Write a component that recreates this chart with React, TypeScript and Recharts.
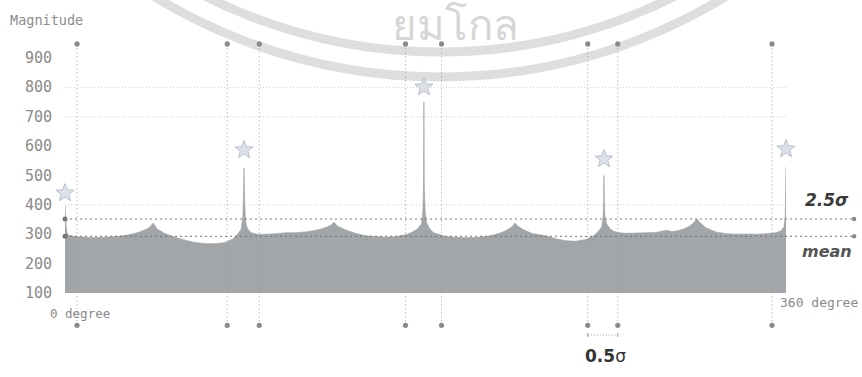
import React from 'react';
import { ComposedChart, Area, XAxis, YAxis, ReferenceLine, ReferenceDot } from 'recharts';

// Spectrum profile: [angle in degrees, magnitude]
const spectrum: [number, number][] = [
  [0, 400], [0.5, 330], [1, 305], [2, 296], [5, 292], [10, 290], [15, 288], [20, 290],
  [25, 292], [30, 296], [33, 300], [36, 305], [40, 315], [42, 322], [43, 330], [44, 338],
  [45, 328], [46, 318], [50, 302], [55, 290], [60, 280], [65, 272], [70, 268], [75, 268],
  [80, 272], [84, 285], [86, 298], [88, 318], [88.8, 360], [89.1, 420], [89.4, 525],
  [89.7, 420], [90, 360], [90.5, 330], [91.5, 315], [93, 305], [96, 300], [100, 300],
  [105, 302], [110, 305], [115, 305], [120, 308], [124, 312], [128, 318], [131, 325],
  [133, 332], [134.3, 341], [136, 328], [140, 315], [145, 303], [150, 295], [155, 292],
  [160, 290], [165, 292], [170, 298], [173, 306], [176, 318], [178, 335], [178.7, 380],
  [179, 460], [179.2, 750], [179.4, 460], [179.8, 380], [180.5, 340], [182, 320],
  [184, 305], [188, 297], [190, 292], [195, 290], [200, 288], [205, 289], [210, 292],
  [213, 296], [217, 303], [220, 312], [223, 325], [224.7, 338], [226, 328], [229, 315],
  [233, 303], [237, 298], [240, 295], [245, 285], [250, 278], [255, 276], [260, 282],
  [264, 295], [266, 308], [268, 325], [268.7, 360], [268.9, 400], [269.1, 500],
  [269.3, 400], [269.6, 360], [270.5, 335], [272, 320], [274, 310], [277, 305],
  [280, 303], [285, 304], [290, 305], [295, 306], [298, 310], [300.5, 314], [303, 309],
  [306, 312], [309, 318], [312, 328], [314, 340], [315.5, 352], [317, 340], [320, 322],
  [325, 308], [330, 302], [335, 300], [340, 301], [345, 300], [350, 302], [355, 305],
  [357.5, 312], [359, 325], [359.6, 360], [360, 530],
];

const yTicks = [100, 200, 300, 400, 500, 600, 700, 800, 900];
const gridValues = [400, 700, 800];
const markerAngles = [6, 81, 97, 170, 188, 261, 276, 353];
const peakAngles = [0, 89.4, 179.2, 269.1, 360];
const peakStarMagnitudes = [440, 587, 801, 556, 590];
const meanMagnitude = 293;
const sigmaMagnitude = 352;
const sigmaBracketAngles = [261, 276];

// annotation extents (in data units)
const markerTop = 948;
const markerBottom = -10;
const thresholdLineEnd = 394;
const bracketLevel = -43;

const data = spectrum.map(([angle, magnitude]) => ({ angle, magnitude }));

const starPoints = (cx: number, cy: number, R: number, r: number) => {
  const pts: string[] = [];
  for (let i = 0; i < 10; i++) {
    const ang = -Math.PI / 2 + (i * Math.PI) / 5;
    const rad = i % 2 === 0 ? R : r;
    pts.push(`${cx + rad * Math.cos(ang)},${cy + rad * Math.sin(ang)}`);
  }
  return pts.join(' ');
};

const StarShape = (props: any) => (
  <polygon
    points={starPoints(props.cx, props.cy, 9.5, 4)}
    fill="#dde1ea"
    stroke="#b9c0cf"
    strokeWidth={1}
  />
);

const YTick = (props: any) => (
  <text
    x={52}
    y={props.y}
    textAnchor="end"
    dominantBaseline="central"
    fontFamily="DejaVu Sans Mono"
    fontSize={15}
    fill="#8a8a8a"
  >
    {props.payload.value}
  </text>
);

const dotColor = '#8a8a8a';

export default function App() {
  return (
    <div style={{ position: 'absolute', left: 0, top: 0, width: 862, height: 377, background: '#fff', overflow: 'hidden' }}>
      <svg width={862} height={377} style={{ position: 'absolute', left: 0, top: 0 }}>
        <circle cx={440} cy={-470} r={547} fill="none" stroke="#dedede" strokeWidth={9} />
        <circle cx={440} cy={-470} r={522} fill="none" stroke="#dedede" strokeWidth={9} />
        <text x={455} y={40} textAnchor="middle" fontFamily="Noto Sans, DejaVu Sans" fontSize={42} fill="#d6d6d6">
          ยมโกล
        </text>
      </svg>
      <div style={{ position: 'absolute', left: 0, top: 0 }}>
        <ComposedChart width={862} height={377} data={data} margin={{ top: 58, right: 76, bottom: 84, left: 0 }}>
          <XAxis dataKey="angle" type="number" domain={[0, 360]} hide allowDataOverflow />
          <YAxis
            domain={[100, 900]}
            ticks={yTicks}
            interval={0}
            width={65}
            axisLine={false}
            tickLine={false}
            tick={YTick}
            allowDataOverflow
          />
          {gridValues.map((v) => (
            <ReferenceLine key={`g${v}`} y={v} stroke="#cdcdcd" strokeDasharray="1 2" />
          ))}
          {markerAngles.map((a) => (
            <ReferenceLine
              key={`m${a}`}
              segment={[{ x: a, y: markerBottom }, { x: a, y: markerTop }]}
              ifOverflow="visible"
              stroke="#9c9c9c"
              strokeDasharray="1 3"
            />
          ))}
          <Area
            type="linear"
            dataKey="magnitude"
            baseValue={100}
            fill="#a3a6a8"
            fillOpacity={1}
            stroke="#9b9ea0"
            strokeWidth={0.6}
            isAnimationActive={false}
          />
          <ReferenceLine
            segment={[{ x: 0, y: sigmaMagnitude }, { x: thresholdLineEnd, y: sigmaMagnitude }]}
            ifOverflow="visible"
            stroke="#777"
            strokeDasharray="2 3"
          />
          <ReferenceLine
            segment={[{ x: 0, y: meanMagnitude }, { x: thresholdLineEnd, y: meanMagnitude }]}
            ifOverflow="visible"
            stroke="#6f6f6f"
            strokeDasharray="2 3"
          />
          {[sigmaMagnitude, meanMagnitude].map((v) => (
            <React.Fragment key={`e${v}`}>
              <ReferenceDot x={0} y={v} r={2.5} fill="#777" stroke="none" ifOverflow="visible" />
              <ReferenceDot x={thresholdLineEnd} y={v} r={2.2} fill="#888" stroke="none" ifOverflow="visible" />
            </React.Fragment>
          ))}
          {markerAngles.map((a) => (
            <React.Fragment key={`d${a}`}>
              <ReferenceDot x={a} y={markerTop} r={2.6} fill={dotColor} stroke="none" ifOverflow="visible" />
              <ReferenceDot x={a} y={markerBottom} r={2.6} fill={dotColor} stroke="none" ifOverflow="visible" />
            </React.Fragment>
          ))}
          <ReferenceLine
            segment={[{ x: sigmaBracketAngles[0], y: bracketLevel }, { x: sigmaBracketAngles[1], y: bracketLevel }]}
            ifOverflow="visible"
            stroke="#999"
            strokeDasharray="1 2"
          />
          {sigmaBracketAngles.map((a) => (
            <ReferenceLine
              key={`b${a}`}
              segment={[{ x: a, y: bracketLevel - 7 }, { x: a, y: bracketLevel + 7 }]}
              ifOverflow="visible"
              stroke="#999"
            />
          ))}
          {peakAngles.map((a, i) => (
            <ReferenceDot
              key={`s${a}`}
              x={a}
              y={peakStarMagnitudes[i]}
              r={9}
              ifOverflow="visible"
              shape={StarShape}
            />
          ))}
        </ComposedChart>
      </div>
      <svg width={862} height={377} style={{ position: 'absolute', left: 0, top: 0, pointerEvents: 'none' }}>
        <text x={10} y={20} dominantBaseline="central" fontFamily="DejaVu Sans Mono" fontSize={13.5} fill="#8c8c8c">
          Magnitude
        </text>
        <text x={50} y={313} dominantBaseline="central" fontFamily="DejaVu Sans Mono" fontSize={12.5} fill="#8a8a8a">
          0 degree
        </text>
        <text x={780} y={302} dominantBaseline="central" fontFamily="DejaVu Sans Mono" fontSize={13} fill="#8a8a8a">
          360 degree
        </text>
        <text x={805} y={200} dominantBaseline="central" fontFamily="DejaVu Sans" fontWeight="bold" fontStyle="italic" fontSize={17} fill="#3a3a3a">
          2.5σ
        </text>
        <text x={802} y={251} dominantBaseline="central" fontFamily="DejaVu Sans" fontWeight="bold" fontStyle="italic" fontSize={16} fill="#555">
          mean
        </text>
        <text x={585} y={356} dominantBaseline="central" fontFamily="DejaVu Sans" fontSize={17} fill="#333">
          <tspan fontWeight="bold">0.5</tspan>
          <tspan>σ</tspan>
        </text>
      </svg>
    </div>
  );
}
